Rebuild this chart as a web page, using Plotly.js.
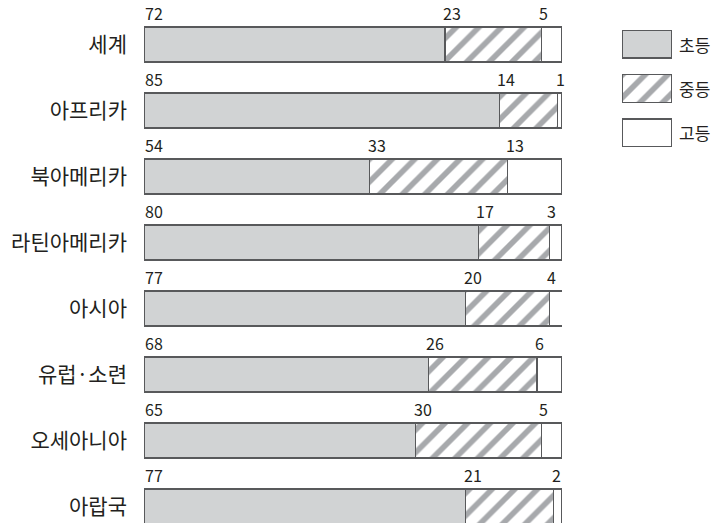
<!DOCTYPE html>
<html>
<head>
<meta charset="utf-8">
<script src="https://cdn.plot.ly/plotly-3.0.1.min.js"></script>
<style>html,body{margin:0;padding:0;background:#fff;}#chart{width:716px;height:523px;}</style>
</head>
<body>
<div id="chart"></div>
<script>
const categories = ['세계','아프리카','북아메리카','라틴아메리카','아시아','유럽·소련','오세아니아','아랍국'];
const primary   = [72, 85, 54, 80, 77, 68, 65, 77];
const secondary = [23, 14, 33, 17, 20, 26, 30, 21];
const tertiary  = [5, 1, 13, 3, 4, 6, 5, 2];
const seriesNames = ['초등', '중등', '고등'];

const FONT = '"Noto Sans CJK KR", "Noto Sans", sans-serif';
const TEXT = '#231f20';
const EDGE = '#58595b';
const GRAY = '#d1d3d4';
const STRIPE = '#a7a9ac';

const series = [primary, secondary, tertiary];
const fills = [
  {color: GRAY},
  {color: 'white', pattern: {shape: '/', bgcolor: 'white', fgcolor: STRIPE, size: 16, solidity: 0.35}},
  {color: 'white'}
];

const traces = series.map((vals, i) => ({
  type: 'bar', orientation: 'h', name: seriesNames[i],
  y: categories, x: vals, width: 0.53,
  xaxis: 'x', yaxis: 'y',
  marker: Object.assign({line: {color: EDGE, width: 1.2}}, fills[i]),
  showlegend: false, hoverinfo: 'skip'
}));

// legend swatches in their own small subplot
seriesNames.forEach((n, i) => {
  traces.push({
    type: 'bar', orientation: 'h', name: n,
    y: [n], x: [1], width: 0.63,
    xaxis: 'x2', yaxis: 'y2',
    marker: Object.assign({line: {color: EDGE, width: 1.2}}, fills[i]),
    showlegend: false, hoverinfo: 'skip'
  });
});

const annotations = [];
categories.forEach((c, ci) => {
  let base = 0;
  series.forEach((vals, si) => {
    annotations.push({
      x: base, y: c, xref: 'x', yref: 'y',
      text: String(vals[ci]), showarrow: false,
      xanchor: 'left', yanchor: 'bottom',
      xshift: si === 0 ? -1 : -4, yshift: 17.5,
      font: {family: FONT, size: 16, color: TEXT}
    });
    base += vals[ci];
  });
});
seriesNames.forEach(n => {
  annotations.push({
    x: (677 - 144) / 572, y: n, xref: 'paper', yref: 'y2',
    text: n, showarrow: false, xanchor: 'left', yanchor: 'middle',
    font: {family: FONT, size: 17, color: TEXT}
  });
});

const layout = {
  width: 716, height: 523,
  margin: {l: 144, r: 0, t: 0, b: 0},
  paper_bgcolor: 'white', plot_bgcolor: 'white',
  barmode: 'stack',
  font: {family: FONT, color: TEXT},
  xaxis: {domain: [0, 418 / 572], range: [0, 100], visible: false, fixedrange: true},
  yaxis: {
    type: 'category', categoryorder: 'array', categoryarray: categories,
    range: [7.25, -0.674], autorange: false,
    showline: false, showgrid: false, zeroline: false, ticks: '',
    ticklabelstandoff: 16,
    tickfont: {family: FONT, size: 21, color: TEXT}
  },
  xaxis2: {domain: [478 / 572, 528 / 572], range: [0, 1], visible: false, anchor: 'y2'},
  yaxis2: {
    domain: [(523 - 147) / 523, (523 - 30) / 523], anchor: 'x2',
    type: 'category', categoryorder: 'array', categoryarray: seriesNames,
    range: [2.315, -0.315], autorange: false, visible: false
  },
  annotations: annotations
};

Plotly.newPlot('chart', traces, layout, {displayModeBar: false, staticPlot: true});
</script>
</body>
</html>
